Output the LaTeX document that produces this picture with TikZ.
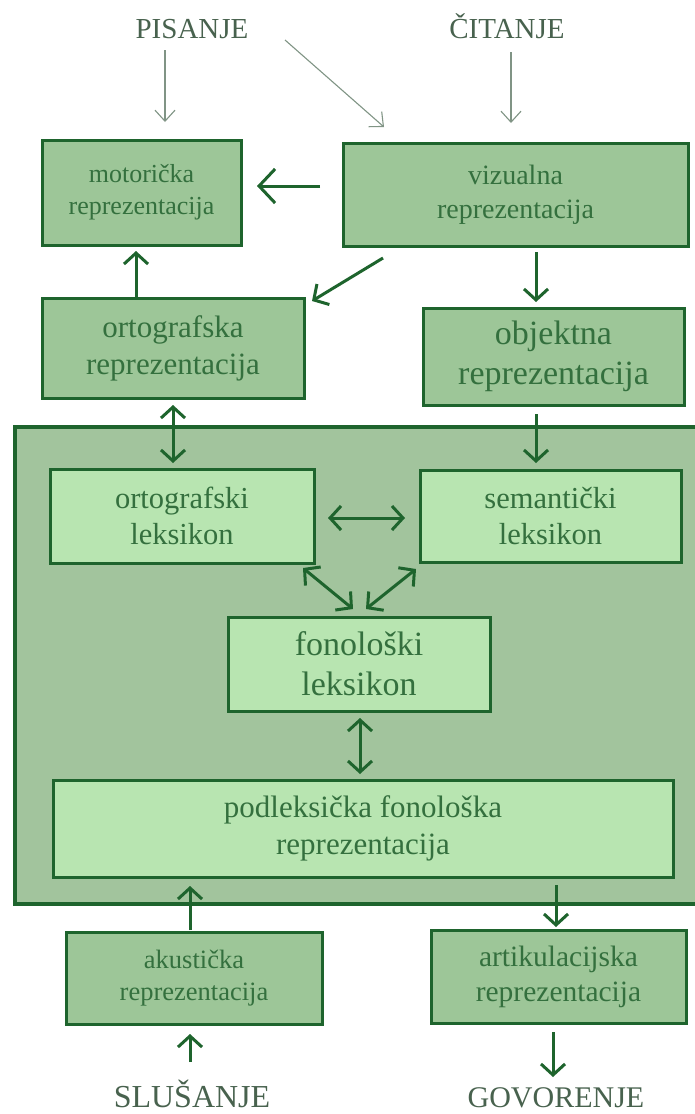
\documentclass[tikz,border=0pt]{standalone}
\usepackage{fontspec}
\setmainfont{Liberation Serif}
\usetikzlibrary{arrows.meta,calc}
\definecolor{dg}{RGB}{30,100,45}
\definecolor{midfill}{RGB}{157,198,152}
\definecolor{lightfill}{RGB}{184,229,177}
\definecolor{contfill}{RGB}{162,196,157}
\definecolor{boxtext}{RGB}{52,112,62}
\definecolor{toptext}{RGB}{72,98,78}
\definecolor{thinarrow}{RGB}{128,148,133}
\newcommand{\fsz}[2]{\fontsize{#1}{#2}\selectfont}
\tikzset{
  box/.style={draw=dg, line width=3pt, fill=midfill, text=boxtext, align=center, inner sep=0pt, outer sep=0pt},
  lbox/.style={box, fill=lightfill},
  toplabel/.style={text=toptext, anchor=base, inner sep=0pt},
  thk/.style={draw=dg, line width=3pt, -{Straight Barb[length=11pt,width=24pt]}},
  thkbig/.style={draw=dg, line width=3pt, -{Straight Barb[length=16pt,width=34pt]}},
  dbl/.style={draw=dg, line width=3pt, {Straight Barb[length=11pt,width=24pt]}-{Straight Barb[length=11pt,width=24pt]}},
  thinarr/.style={draw=thinarrow, line width=1.1pt, -{Straight Barb[length=11pt,width=20pt]}}
}
\begin{document}
\begin{tikzpicture}[x=1pt,y=-1pt]
\useasboundingbox[fill=white] (0,0) rectangle (694,1114);
% container
\node[box, fill=contfill, line width=4pt, minimum width=695pt, minimum height=477pt] (lex) at (362.5,665.5) {};
% top labels
\node[toplabel, font=\fsz{29}{35}] (P) at (192,38) {PISANJE};
\node[toplabel, font=\fsz{29}{35}] (C) at (507,38) {ČITANJE};
% boxes
\node[box, minimum width=199pt, minimum height=105pt, font=\fsz{26}{32}] (mot) at (141.5,192.5) {motorička\\reprezentacija};
\node[box, minimum width=345pt, minimum height=103pt, font=\fsz{28}{34}] (viz) at (515.5,194.5) {vizualna\\reprezentacija};
\node[box, minimum width=262pt, minimum height=100pt, font=\fsz{31}{37}] (ortR) at (173,348) {ortografska\\reprezentacija};
\node[box, minimum width=261pt, minimum height=97pt, font=\fsz{34}{40}] (obj) at (553.5,356.5) {objektna\\reprezentacija};
\node[lbox, minimum width=264pt, minimum height=94pt, font=\fsz{30.5}{36}] (ortL) at (182,516) {ortografski\\leksikon};
\node[lbox, minimum width=261pt, minimum height=92pt, font=\fsz{30.5}{36}] (sem) at (550.5,516) {semantički\\leksikon};
\node[lbox, minimum width=262pt, minimum height=94pt, font=\fsz{34}{40}] (fon) at (359,664) {fonološki\\leksikon};
\node[lbox, minimum width=620pt, minimum height=97pt, font=\fsz{31}{37}] (pod) at (363,828.5) {podleksička fonološka\\reprezentacija};
\node[box, minimum width=256pt, minimum height=92pt, font=\fsz{26.5}{32}] (aku) at (194,978) {akustička\\reprezentacija};
\node[box, minimum width=255pt, minimum height=93pt, font=\fsz{29.5}{35}] (art) at (558.5,976.5) {artikulacijska\\reprezentacija};
% bottom labels
\node[toplabel, font=\fsz{32}{38}] (S) at (192,1107) {SLUŠANJE};
\node[toplabel, font=\fsz{30}{36}] (G) at (556,1107) {GOVORENJE};
% thin arrows
\draw[thinarr] ($(P.base)+(-27,12)$) -- ($(mot.north)+(23.5,-18)$);
\draw[thinarr] ($(P.base)+(93,2)$) -- ($(viz.north)+(-131.5,-16)$);
\draw[thinarr] ($(C.base)+(4,14)$) -- ($(viz.north)+(-4.5,-20)$);
% thick arrows
\draw[thkbig] ($(viz.west)+(-23,-8.5)$) -- ($(mot.east)+(16,-6.5)$);
\draw[thk] ($(ortR.north)+(-37,-1)$) -- ($(mot.south)+(-5.5,6)$);
\draw[thk] ($(viz.south)+(-132.5,12)$) -- ($(ortR.north east)+(8,3)$);
\draw[thk] ($(viz.south)+(20.5,6)$) -- ($(obj.north)+(-17.5,-6)$);
\draw[dbl] ($(ortR.south)+(0,7)$) -- ($(ortL.north)+(-9,-6)$);
\draw[thk] ($(obj.south)+(-17.5,9)$) -- ($(sem.north)+(-14.5,-7)$);
\draw[dbl] ($(ortL.east)+(14,2)$) -- ($(sem.west)+(-15,2)$);
\draw[dbl] ($(ortL.south east)+(-11,5)$) -- ($(fon.north)+(-6,-8)$);
\draw[dbl] ($(sem.south west)+(-4,7)$) -- ($(fon.north)+(7,-8)$);
\draw[dbl] ($(fon.south)+(1,7)$) -- ($(pod.north)+(-3,-6)$);
\draw[thk] ($(aku.north)+(-4,-2)$) -- ($(pod.south)+(-173,9)$);
\draw[thk] ($(pod.south)+(193,8)$) -- ($(art.north)+(-2.5,-3)$);
\draw[thk] ($(S.base)+(-2,-45)$) -- ($(aku.south)+(-4,10)$);
\draw[thk] ($(art.south)+(-5.5,9)$) -- ($(G.base)+(-3,-30)$);
\end{tikzpicture}
\end{document}
